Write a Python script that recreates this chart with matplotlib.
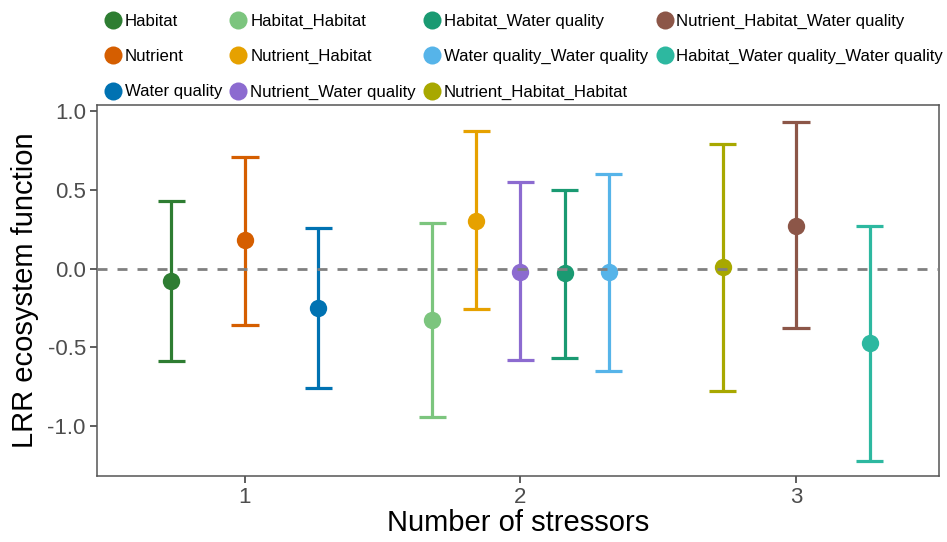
import numpy as np
import matplotlib
matplotlib.use("Agg")
import matplotlib.pyplot as plt
from matplotlib.lines import Line2D

plt.rcParams['font.family'] = ['Liberation Sans', 'DejaVu Sans']

# Stressor combinations in factor order
combos = ["Habitat", "Nutrient", "Water quality",
          "Habitat_Habitat", "Nutrient_Habitat", "Nutrient_Water quality",
          "Habitat_Water quality", "Water quality_Water quality",
          "Nutrient_Habitat_Habitat", "Nutrient_Habitat_Water quality",
          "Habitat_Water quality_Water quality"]
n_stressors = [1, 1, 1, 2, 2, 2, 2, 2, 3, 3, 3]
lrr_mean = [-0.08, 0.18, -0.25, -0.33, 0.30, -0.02, -0.03, -0.025, 0.01, 0.27, -0.47]
ci_low = [-0.59, -0.36, -0.76, -0.94, -0.26, -0.58, -0.57, -0.65, -0.775, -0.38, -1.22]
ci_high = [0.43, 0.71, 0.26, 0.29, 0.87, 0.55, 0.50, 0.60, 0.79, 0.93, 0.27]
colors = ["#2E7D32", "#D55E00", "#0072B2",
          "#7CC57E", "#E6A100", "#8C6BD0",
          "#1A9A72", "#56B4E9",
          "#A8A800", "#8C5648", "#2DB8A0"]

fig = plt.figure(figsize=(9.47, 5.42), dpi=100)
ax = fig.add_axes([0.1024, 0.1218, 0.8892, 0.6845])

dodge = 0.8
cap_w = 0.1
for k in sorted(set(n_stressors)):
    idx = [i for i, n in enumerate(n_stressors) if n == k]
    m = len(idx)
    for j, i in enumerate(idx):
        x = k + (j - (m - 1) / 2) * dodge / m
        c = colors[i]
        ax.vlines(x, ci_low[i], ci_high[i], color=c, lw=2.3, zorder=3)
        ax.hlines([ci_low[i], ci_high[i]], x - cap_w / 2, x + cap_w / 2,
                  color=c, lw=2.3, zorder=3)
        ax.plot(x, lrr_mean[i], 'o', color=c, ms=12.5, mec='none', zorder=4)

ax.axhline(0, color="#808080", lw=2.0, ls=(0, (3.6, 3.6)), zorder=5)

ax.set_xlim(0.463, 3.519)
ax.set_ylim(-1.317, 1.038)
ax.set_xticks([1, 2, 3])
ax.set_yticks([-1.0, -0.5, 0.0, 0.5, 1.0])
ax.set_yticklabels(["-1.0", "-0.5", "0.0", "0.5", "1.0"])
ax.tick_params(axis='both', labelsize=16, colors="#333333", labelcolor="#4d4d4d",
               length=5, width=1.1, direction='out', pad=3)
for s in ax.spines.values():
    s.set_color("#555555")
    s.set_linewidth(1.1)
ax.set_xlabel("Number of stressors", fontsize=21, labelpad=1)
ax.set_ylabel("LRR ecosystem function", fontsize=21, labelpad=6)

handles = [Line2D([], [], ls='none', marker='o', ms=13, color=colors[i],
                  mec='none', label=name) for i, name in enumerate(combos)]
fig.legend(handles=handles, ncol=4, loc='upper left',
           bbox_to_anchor=(0.1032, 0.987), frameon=False, fontsize=12.1,
           handlelength=1.0, handletextpad=0.2, columnspacing=0.48,
           labelspacing=1.21, borderaxespad=0.0)

fig.savefig("out.png", dpi=100)
